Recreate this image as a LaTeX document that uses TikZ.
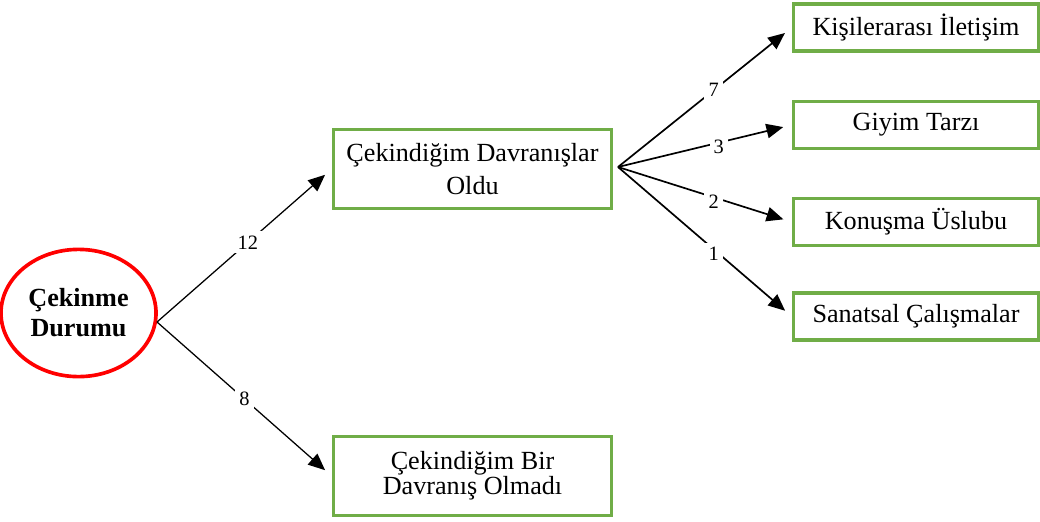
\documentclass[tikz,border=0pt]{standalone}
\usepackage{fontspec}
\setmainfont{Liberation Serif}
\usepackage{xcolor}
\usetikzlibrary{positioning,arrows.meta,shapes.geometric}
\definecolor{boxgreen}{RGB}{112,173,71}

\begin{document}
\begin{tikzpicture}[x=0.025cm, y=-0.025cm, font=\fontsize{18.6}{23}\selectfont,
  box/.style={draw=boxgreen, line width=2.5pt, fill=white, inner sep=0pt, align=center},
  lbl/.style={fill=white, inner sep=3pt, font=\fontsize{14.5}{16}\selectfont},
  arr/.style={-{Triangle[length=0.42cm, width=0.36cm]}, line width=0.9pt, shorten >=0.22cm}]
\useasboundingbox (0,0) rectangle (1040,521);
% start
\node[ellipse, draw=red, line width=2.6pt, minimum width=3.45cm, minimum height=3.18cm,
  align=center, font=\fontsize{18.6}{21.3}\selectfont\bfseries] (durum) at (78.5,313)
  {Çekinme\\Durumu};
% second level
\node[box, minimum width=6.95cm, minimum height=1.98cm] (oldu) at (472.5,169)
  {Çekindiğim Davranışlar\\Oldu};
\node[box, minimum width=6.95cm, minimum height=1.98cm, font=\fontsize{18.6}{18}\selectfont]
  (olmadi) at (472.5,476) {Çekindiğim Bir\\Davranış Olmadı};
% third level
\node[box, minimum width=6.12cm, minimum height=1.18cm] (iletisim) at (916,27.5) {Kişilerarası İletişim};
\node[box, minimum width=6.12cm, minimum height=1.18cm] (giyim) at (916,125) {Giyim Tarzı};
\node[box, minimum width=6.12cm, minimum height=1.18cm] (uslup) at (916,222) {Konuşma Üslubu};
\node[box, minimum width=6.12cm, minimum height=1.18cm] (sanat) at (916,316.5) {Sanatsal Çalışmalar};
% split points
\coordinate (lhub) at (157,322);
\coordinate (rhub) at (618,167);
\draw[arr] (lhub) -- (oldu.west) node[lbl, pos=0.52] {12};
\draw[arr] (lhub) -- (olmadi.west) node[lbl, pos=0.5] {8};
\draw[arr, line width=1.2pt] (rhub) -- (iletisim.west) node[lbl, pos=0.55] {7};
\draw[arr, line width=1.2pt] (rhub) -- (giyim.west) node[lbl, pos=0.58, yshift=-3pt] {3};
\draw[arr, line width=1.2pt] (rhub) -- (uslup.west) node[lbl, pos=0.55, yshift=-3pt] {2};
\draw[arr, line width=1.2pt] (rhub) -- (sanat.west) node[lbl, pos=0.55, yshift=-3pt] {1};
\end{tikzpicture}
\end{document}
